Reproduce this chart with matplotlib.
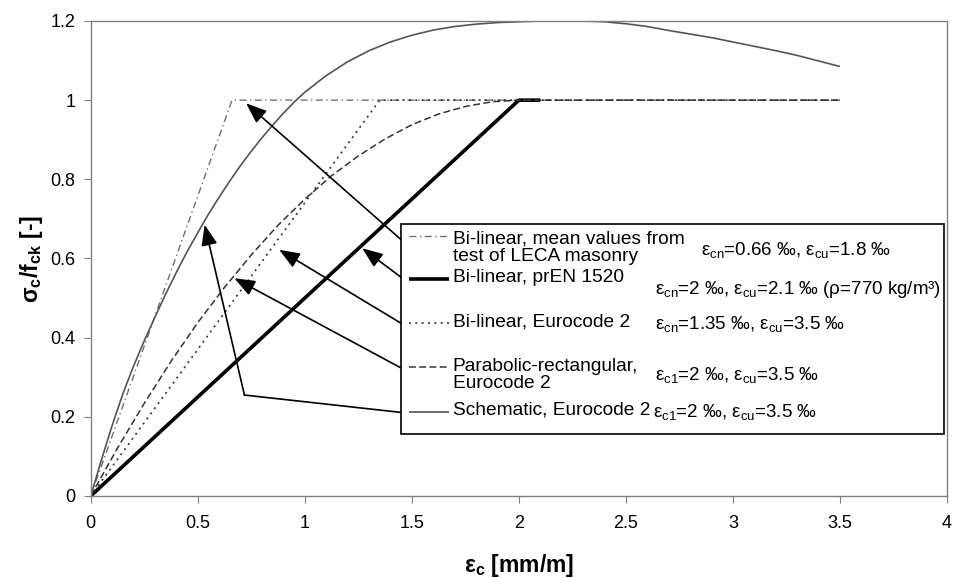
import matplotlib
matplotlib.use("Agg")
import matplotlib.pyplot as plt
from matplotlib.patches import Rectangle
from matplotlib.lines import Line2D

plt.rcParams['font.family'] = ['Liberation Sans', 'DejaVu Sans']
plt.rcParams['mathtext.fontset'] = 'custom'
plt.rcParams['mathtext.rm'] = 'Liberation Sans'
plt.rcParams['mathtext.it'] = 'Liberation Sans'
plt.rcParams['mathtext.bf'] = 'Liberation Sans:bold'

# ---------------- data ----------------
leca_x = [0.0, 0.66, 3.5]
leca_y = [0.0, 1.0, 1.0]

pren_x = [0.0, 2.0, 2.1]
pren_y = [0.0, 1.0, 1.0]

ec2_bi_x = [0.0, 1.35, 3.5]
ec2_bi_y = [0.0, 1.0, 1.0]

parab_x = [0.0, 0.125, 0.25, 0.375, 0.5, 0.625, 0.75, 0.875, 1.0, 1.125, 1.25,
           1.375, 1.5, 1.625, 1.75, 1.875, 2.0, 3.5]
parab_y = [0.0, 0.121, 0.234, 0.340, 0.438, 0.527, 0.609, 0.684, 0.750, 0.809,
           0.859, 0.902, 0.938, 0.965, 0.984, 0.996, 1.0, 1.0]

schem_x = [0.0, 0.05, 0.1, 0.15, 0.2, 0.25, 0.3, 0.35, 0.4, 0.45, 0.5, 0.55,
           0.6, 0.65, 0.7, 0.75, 0.8, 0.85, 0.9, 0.95, 1.0, 1.1, 1.2, 1.3, 1.4,
           1.5, 1.6, 1.7, 1.8, 1.9, 2.0, 2.1, 2.2, 2.3, 2.4, 2.5, 2.6, 2.7, 2.8,
           2.9, 3.0, 3.1, 3.2, 3.3, 3.4, 3.5]
schem_y = [0.0, 0.091, 0.178, 0.258, 0.328, 0.392, 0.452, 0.510, 0.565, 0.617,
           0.665, 0.712, 0.755, 0.796, 0.835, 0.871, 0.905, 0.937, 0.967, 0.995,
           1.020, 1.062, 1.097, 1.125, 1.147, 1.164, 1.177, 1.186, 1.192, 1.196,
           1.198, 1.200, 1.200, 1.200, 1.198, 1.193, 1.186, 1.176, 1.167, 1.158,
           1.147, 1.136, 1.125, 1.113, 1.099, 1.085]

legend_labels = ["Bi-linear, mean values from\ntest of LECA masonry",
                 "Bi-linear, prEN 1520",
                 "Bi-linear, Eurocode 2",
                 "Parabolic-rectangular,\nEurocode 2",
                 "Schematic, Eurocode 2"]

param_labels = [r"$\mathrm{ε_{cn}}$=0.66 ‰, $\mathrm{ε_{cu}}$=1.8 ‰",
                r"$\mathrm{ε_{cn}}$=2 ‰, $\mathrm{ε_{cu}}$=2.1 ‰ (ρ=770 kg/m³)",
                r"$\mathrm{ε_{cn}}$=1.35 ‰, $\mathrm{ε_{cu}}$=3.5 ‰",
                r"$\mathrm{ε_{c1}}$=2 ‰, $\mathrm{ε_{cu}}$=3.5 ‰",
                r"$\mathrm{ε_{c1}}$=2 ‰, $\mathrm{ε_{cu}}$=3.5 ‰"]

x_ticks = [0, 0.5, 1, 1.5, 2, 2.5, 3, 3.5, 4]
x_ticklabels = ["0", "0.5", "1", "1.5", "2", "2.5", "3", "3.5", "4"]
y_ticks = [0, 0.2, 0.4, 0.6, 0.8, 1.0, 1.2]
y_ticklabels = ["0", "0.2", "0.4", "0.6", "0.8", "1", "1.2"]

# arrow tips (data coords) and elbow for schematic
arrow_tips = [(0.726, 0.992), (1.268, 0.626), (0.880, 0.622), (0.671, 0.550), (0.532, 0.685)]
schem_elbow = (0.718, 0.255)

# ---------------- figure ----------------
fig = plt.figure(figsize=(9.54, 5.78), dpi=100)
ax = fig.add_axes([0.0951, 0.1419, 0.8976, 0.8218])

styles = [
    dict(color='#707070', lw=1.0, dashes=(5, 2.5, 1, 2.5)),
    dict(color='black', lw=2.6, linestyle='-'),
    dict(color='#333333', lw=1.2, dashes=(1.2, 2.6)),
    dict(color='#333333', lw=1.1, dashes=(4.5, 2.2)),
    dict(color='#555555', lw=1.2, linestyle='-'),
]
series = [(leca_x, leca_y), (pren_x, pren_y), (ec2_bi_x, ec2_bi_y),
          (parab_x, parab_y), (schem_x, schem_y)]
for (xs, ys), st in zip(series, styles):
    ax.plot(xs, ys, solid_capstyle='butt', dash_capstyle='butt',
            solid_joinstyle='round', **st)

ax.set_xlim(0, 4)
ax.set_ylim(0, 1.2)
ax.set_xticks(x_ticks)
ax.set_xticklabels(x_ticklabels)
ax.set_yticks(y_ticks)
ax.set_yticklabels(y_ticklabels)
ax.tick_params(direction='out', length=5, color='#808080', labelsize=13)
ax.tick_params(axis='x', pad=9)
ax.tick_params(axis='y', pad=6)

for side in ['left', 'bottom']:
    ax.spines[side].set_color('#808080')
    ax.spines[side].set_linewidth(1.0)
for side in ['top', 'right']:
    ax.spines[side].set_color('#808080')
    ax.spines[side].set_linewidth(1.0)
    ax.spines[side].set_linestyle((0, (1, 1)))

ax.set_ylabel(r"$\mathbf{σ_c/f_{ck}}$ [-]", fontsize=16.5, fontweight='bold', labelpad=4)
ax.set_xlabel(r"$\mathbf{ε_c}$ [mm/m]", fontsize=16.5, fontweight='bold', labelpad=14)

# ---------------- custom legend box ----------------
box = Rectangle((0.3628, 0.1305), 0.6332, 0.4421, transform=ax.transAxes,
                facecolor='white', edgecolor='black', lw=1.2, zorder=5)
ax.add_patch(box)

sample_y = [0.547, 0.457, 0.364, 0.272, 0.177]
label_y = [0.523, 0.459, 0.366, 0.254, 0.181]
param_pos = [(0.7125, 0.518), (0.6585, 0.4337), (0.6585, 0.362), (0.6585, 0.2547), (0.6565, 0.177)]

for sy, ly, lab, st, txt, pp in zip(sample_y, label_y, legend_labels, styles, param_labels, param_pos):
    ln = Line2D([0.3718, 0.4185], [sy, sy], transform=ax.transAxes, zorder=6,
                solid_capstyle='butt', **st)
    ax.add_line(ln)
    ax.text(0.4225, ly, lab, transform=ax.transAxes, fontsize=13.8, va='center',
            ha='left', zorder=7, linespacing=1.0)
    ax.text(pp[0], pp[1], txt, transform=ax.transAxes, fontsize=13.5, va='center',
            ha='left', zorder=7)

# ---------------- arrows ----------------
starts_y = [0.647, 0.552, 0.436, 0.323, 0.211]
legend_left_x = 1.451
aprops = dict(arrowstyle='-|>,head_length=0.9,head_width=0.35', color='black', lw=1.2,
              shrinkA=0, shrinkB=0, mutation_scale=14)
for i, (tip, sy) in enumerate(zip(arrow_tips, starts_y)):
    if i == 4:
        ax.plot([legend_left_x, schem_elbow[0]], [sy, schem_elbow[1]], color='black', lw=1.2, zorder=4)
        ax.annotate('', xy=tip, xytext=schem_elbow, arrowprops=aprops, zorder=4)
    else:
        ax.annotate('', xy=tip, xytext=(legend_left_x, sy), arrowprops=aprops, zorder=4)

fig.savefig("out.png", dpi=100)
